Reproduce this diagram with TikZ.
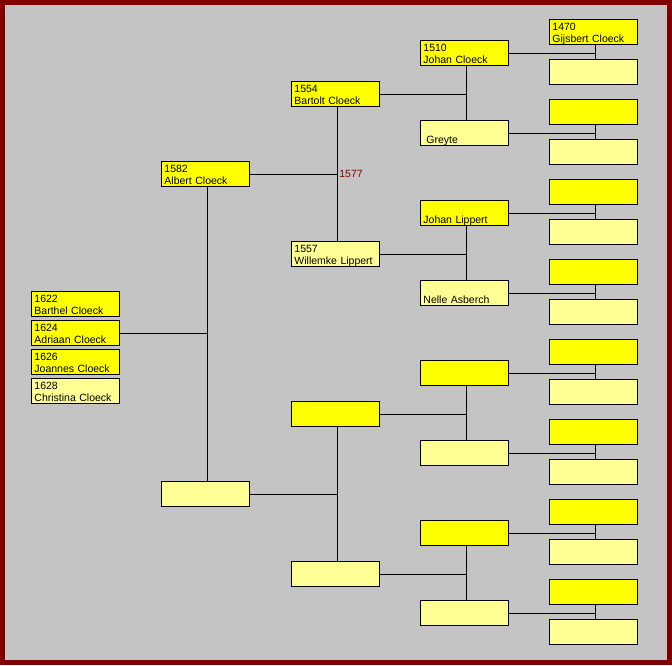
\documentclass[tikz,border=0pt]{standalone}
\usepackage{fontspec}
\setmainfont{Liberation Sans}
\definecolor{frame}{RGB}{128,0,0}
\definecolor{canvas}{RGB}{196,196,196}
\definecolor{yel}{RGB}{255,255,0}
\definecolor{paleyel}{RGB}{255,255,150}
\begin{document}
\begin{tikzpicture}[x=1pt,y=-1pt,line width=0.9pt]
        \tikzstyle{person} = [draw,anchor=north west,text width=82pt,inner xsep=3pt,inner ysep=0pt,
          text height=11pt,text depth=14pt,align=left,font=\fontsize{10.5}{12.5}\selectfont]
        \tikzstyle{man} = [person,fill=yel]
        \tikzstyle{wife} = [person,fill=paleyel]
        \fill[frame] (0,0) rectangle (672,665);
        \fill[canvas] (5,5) rectangle (667,660);
        \node[man] (c1) at (31,291) {1622\\Barthel Cloeck};
        \node[man] (c2) at (31,320) {1624\\Adriaan Cloeck};
        \node[man] (c3) at (31,349) {1626\\Joannes Cloeck};
        \node[wife] (c4) at (31,378) {1628\\Christina Cloeck};
        \node[man] (g1-0) at (161,161) {1582\\Albert Cloeck};
        \node[wife] (g1-1) at (161,481) {};
        \node[man] (g2-0) at (291,81) {1554\\Bartolt Cloeck};
        \node[wife] (g2-1) at (291,241) {1557\\Willemke Lippert};
        \node[man] (g2-2) at (291,401) {};
        \node[wife] (g2-3) at (291,561) {};
        \node[man] (g3-0) at (420,40) {1510\\Johan Cloeck};
        \node[wife] (g3-1) at (420,120) {\mbox{}\\\hspace*{3pt}Greyte};
        \node[man] (g3-2) at (420,200) {\mbox{}\\Johan Lippert};
        \node[wife] (g3-3) at (420,280) {\mbox{}\\Nelle Asberch};
        \foreach \j in {2,3}{
          \pgfmathtruncatemacro\m{2*\j}
          \pgfmathtruncatemacro\f{2*\j+1}
          \node[man] (g3-\m) at (420,40+160*\j) {};
          \node[wife] (g3-\f) at (420,120+160*\j) {};
        }
        \node[man] (g4-0) at (549,19) {1470\\Gijsbert Cloeck};
        \foreach \j in {0,...,7}{
          \pgfmathtruncatemacro\m{2*\j}
          \pgfmathtruncatemacro\f{2*\j+1}
          \ifnum\j>0 \node[man] (g4-\m) at (549,19+80*\j) {}; \fi
          \node[wife] (g4-\f) at (549,59+80*\j) {};
          \path[draw] ([xshift=2pt]g4-\m.south) -- ([xshift=2pt]g4-\f.north);
          \path[draw] (g3-\j) -- ([xshift=2pt]g3-\j -| g4-\m);
        }
        \foreach \j in {0,...,3}{
          \pgfmathtruncatemacro\m{2*\j}
          \pgfmathtruncatemacro\f{2*\j+1}
          \path[draw] ([xshift=2pt]g3-\m.south) -- ([xshift=2pt]g3-\f.north);
          \path[draw] (g2-\j) -- ([xshift=2pt]g2-\j -| g3-\m);
        }
        \foreach \j in {0,1}{
          \pgfmathtruncatemacro\m{2*\j}
          \pgfmathtruncatemacro\f{2*\j+1}
          \path[draw] ([xshift=2pt]g2-\m.south) -- ([xshift=2pt]g2-\f.north);
          \path[draw] (g1-\j) -- ([xshift=2pt]g1-\j -| g2-\m);
        }
        \path[draw] ([xshift=2pt]g1-0.south) -- ([xshift=2pt]g1-1.north);
        \path[draw] (c2) -- ([xshift=2pt]c2 -| g1-0);
        \node[anchor=west,inner sep=1.5pt,text=frame,font=\fontsize{10.5}{12.5}\selectfont] (m0) at ([xshift=2pt]g1-0 -| g2-0) {1577};
      \end{tikzpicture}
\end{document}
